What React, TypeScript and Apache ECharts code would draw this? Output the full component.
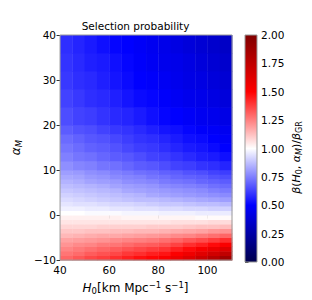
import React, { useEffect, useRef } from "react";
import * as echarts from "echarts";

// Column edges along H0 [km Mpc^-1 s^-1]
const H0_EDGES = [40, 45, 50, 55, 60, 65, 70, 75, 80, 85, 90, 95, 100, 105, 110];
// Row edges along alpha_M (bottom to top)
const ALPHA_EDGES = [
  -10, -9, -8, -7, -6, -5, -4, -3, -2, -1, 0, 1, 2, 3, 4, 5, 6, 7, 8, 9, 10,
  12, 14, 16, 18, 20, 24, 28, 32, 36, 40,
];
// beta(H0, alpha_M)/beta_GR, one row per alpha band (bottom to top), one value per H0 column
const ROW_M9_5 = [1.3, 1.33, 1.36, 1.38, 1.41, 1.44, 1.47, 1.49, 1.52, 1.57, 1.63, 1.7, 1.78, 1.87];
const ROW_M8_5 = [1.27, 1.29, 1.32, 1.34, 1.36, 1.39, 1.41, 1.44, 1.46, 1.51, 1.56, 1.62, 1.68, 1.75];
const ROW_M7_5 = [1.24, 1.26, 1.28, 1.3, 1.32, 1.34, 1.36, 1.38, 1.4, 1.44, 1.48, 1.53, 1.58, 1.63];
const ROW_M6_5 = [1.21, 1.23, 1.24, 1.26, 1.27, 1.29, 1.31, 1.32, 1.34, 1.37, 1.41, 1.44, 1.48, 1.52];
const ROW_M5_5 = [1.18, 1.19, 1.2, 1.21, 1.23, 1.24, 1.25, 1.26, 1.28, 1.3, 1.33, 1.35, 1.38, 1.41];
const ROW_M4_5 = [1.14, 1.15, 1.16, 1.17, 1.17, 1.18, 1.19, 1.2, 1.21, 1.23, 1.24, 1.26, 1.28, 1.3];
const ROW_M3_5 = [1.11, 1.11, 1.12, 1.12, 1.13, 1.13, 1.14, 1.14, 1.15, 1.16, 1.17, 1.18, 1.2, 1.21];
const ROW_M2_5 = [1.08, 1.08, 1.08, 1.09, 1.09, 1.09, 1.09, 1.1, 1.1, 1.1, 1.11, 1.12, 1.12, 1.13];
const ROW_M1_5 = [1.05, 1.05, 1.05, 1.05, 1.05, 1.05, 1.05, 1.05, 1.05, 1.06, 1.06, 1.06, 1.07, 1.07];
const ROW_M0_5 = [1.03, 1.03, 1.03, 1.03, 1.03, 1.02, 1.02, 1.02, 1.02, 1.02, 1.02, 1.01, 1.01, 1.01];
const ROW_P0_5 = [1.0, 1.0, 0.99, 0.99, 0.99, 0.98, 0.98, 0.98, 0.97, 0.97, 0.97, 0.96, 0.96, 0.96];
const ROW_P1_5 = [0.97, 0.97, 0.96, 0.96, 0.95, 0.95, 0.94, 0.94, 0.93, 0.93, 0.92, 0.92, 0.91, 0.91];
const ROW_P2_5 = [0.95, 0.94, 0.94, 0.93, 0.92, 0.92, 0.91, 0.9, 0.89, 0.89, 0.88, 0.87, 0.87, 0.86];
const ROW_P3_5 = [0.93, 0.92, 0.91, 0.9, 0.89, 0.88, 0.87, 0.87, 0.86, 0.85, 0.84, 0.83, 0.82, 0.81];
const ROW_P4_5 = [0.91, 0.9, 0.89, 0.88, 0.87, 0.86, 0.85, 0.83, 0.82, 0.81, 0.8, 0.79, 0.78, 0.77];
const ROW_P5_5 = [0.89, 0.88, 0.87, 0.86, 0.85, 0.83, 0.82, 0.81, 0.8, 0.79, 0.78, 0.77, 0.75, 0.74];
const ROW_P6_5 = [0.87, 0.86, 0.85, 0.84, 0.82, 0.81, 0.8, 0.79, 0.77, 0.76, 0.75, 0.74, 0.72, 0.71];
const ROW_P7_5 = [0.85, 0.84, 0.82, 0.81, 0.8, 0.78, 0.77, 0.76, 0.74, 0.73, 0.72, 0.7, 0.69, 0.68];
const ROW_P8_5 = [0.83, 0.82, 0.8, 0.79, 0.77, 0.76, 0.75, 0.73, 0.72, 0.7, 0.69, 0.68, 0.66, 0.65];
const ROW_P9_5 = [0.81, 0.8, 0.78, 0.77, 0.75, 0.74, 0.72, 0.71, 0.69, 0.68, 0.66, 0.65, 0.63, 0.62];
const ROW_P11 = [0.78, 0.76, 0.75, 0.73, 0.72, 0.7, 0.68, 0.67, 0.65, 0.63, 0.62, 0.6, 0.59, 0.57];
const ROW_P13 = [0.75, 0.73, 0.72, 0.7, 0.68, 0.67, 0.65, 0.63, 0.62, 0.6, 0.58, 0.56, 0.55, 0.53];
const ROW_P15 = [0.73, 0.71, 0.69, 0.68, 0.66, 0.64, 0.62, 0.61, 0.59, 0.57, 0.55, 0.54, 0.52, 0.5];
const ROW_P17 = [0.71, 0.69, 0.67, 0.66, 0.64, 0.62, 0.6, 0.59, 0.57, 0.55, 0.53, 0.52, 0.5, 0.48];
const ROW_P19 = [0.68, 0.66, 0.65, 0.63, 0.61, 0.6, 0.58, 0.56, 0.54, 0.53, 0.51, 0.49, 0.48, 0.46];
const ROW_P22 = [0.65, 0.63, 0.62, 0.6, 0.58, 0.57, 0.55, 0.53, 0.51, 0.5, 0.48, 0.46, 0.45, 0.43];
const ROW_P26 = [0.63, 0.61, 0.59, 0.58, 0.56, 0.54, 0.52, 0.51, 0.49, 0.47, 0.45, 0.44, 0.42, 0.4];
const ROW_P30 = [0.61, 0.59, 0.58, 0.56, 0.54, 0.52, 0.5, 0.49, 0.47, 0.45, 0.43, 0.42, 0.4, 0.38];
const ROW_P34 = [0.6, 0.58, 0.56, 0.55, 0.53, 0.51, 0.49, 0.47, 0.45, 0.44, 0.42, 0.4, 0.38, 0.36];
const ROW_P38 = [0.59, 0.57, 0.55, 0.53, 0.51, 0.5, 0.48, 0.46, 0.44, 0.42, 0.4, 0.38, 0.36, 0.34];
const RATIO_ROWS = [
  ROW_M9_5, ROW_M8_5, ROW_M7_5, ROW_M6_5, ROW_M5_5, ROW_M4_5, ROW_M3_5, ROW_M2_5, ROW_M1_5, ROW_M0_5,
  ROW_P0_5, ROW_P1_5, ROW_P2_5, ROW_P3_5, ROW_P4_5, ROW_P5_5, ROW_P6_5, ROW_P7_5, ROW_P8_5, ROW_P9_5,
  ROW_P11, ROW_P13, ROW_P15, ROW_P17, ROW_P19,
  ROW_P22, ROW_P26, ROW_P30, ROW_P34, ROW_P38,
];
const COLOR_RANGE = [0, 2];
const SEISMIC = ["#00004d", "#0000ff", "#ffffff", "#ff0000", "#800000"];

const FONT = "DejaVu Sans";

function mathRich(size: number, sub: number) {
  return {
    i: { fontFamily: FONT, fontSize: size, fontStyle: "italic", color: "#000", lineHeight: 16 },
    n: { fontFamily: FONT, fontSize: size, color: "#000", lineHeight: 16 },
    s: { fontFamily: FONT, fontSize: sub, color: "#000", lineHeight: 9, padding: [6, 0, 0, 0] },
    si: { fontFamily: FONT, fontSize: sub, fontStyle: "italic", color: "#000", lineHeight: 9, padding: [6, 0, 0, 0] },
    p: { fontFamily: FONT, fontSize: sub, color: "#000", lineHeight: 9, padding: [0, 0, 6, 0] },
  };
}

export default function App() {
  const ref = useRef<HTMLDivElement>(null);
  useEffect(() => {
    if (!ref.current) return;
    const chart = echarts.init(ref.current, undefined, { renderer: "svg" });
    const cells: number[][] = [];
    RATIO_ROWS.forEach((row, r) => {
      row.forEach((v, c) => {
        cells.push([H0_EDGES[c], H0_EDGES[c + 1], ALPHA_EDGES[r], ALPHA_EDGES[r + 1], v]);
      });
    });
    const rich = mathRich(12, 8.5);
    const richBar = mathRich(11, 8);
    const minus = (v: number) => (v < 0 ? "\u2212" + Math.abs(v) : String(v));
    chart.setOption({
      animation: false,
      title: {
        text: "Selection probability",
        left: 135.5,
        textAlign: "center",
        top: 20,
        padding: 0,
        textStyle: { fontFamily: FONT, fontSize: 10.5, fontWeight: "normal", color: "#000" },
      },
      grid: [
        { left: 39, top: 35, width: 193, height: 227, show: true, borderColor: "#999", borderWidth: 1, z: 5, backgroundColor: "transparent" },
        { left: 245, top: 35, width: 12, height: 227, show: true, borderColor: "#999", borderWidth: 1, z: 5, backgroundColor: "transparent" },
      ],
      xAxis: [
        {
          type: "value",
          gridIndex: 0,
          min: 40,
          max: 110,
          interval: 20,
          axisLine: { show: false },
          axisTick: { show: true, length: 3.5, lineStyle: { color: "#333" } },
          splitLine: { show: false },
          axisLabel: { margin: 4, fontSize: 10.5, color: "#000", fontFamily: FONT, showMaxLabel: false },
          name: "{i|H}{s|0}{n|[km Mpc}{p|\u22121}{n| s}{p|\u22121}{n|]}",
          nameLocation: "middle",
          nameGap: 17,
          nameTextStyle: { rich, padding: [0, 21, 0, 0] },
        },
        { type: "value", gridIndex: 1, min: 0, max: 1, show: false },
      ],
      yAxis: [
        {
          type: "value",
          gridIndex: 0,
          min: -10,
          max: 40,
          interval: 10,
          axisLine: { show: false },
          axisTick: { show: true, length: 3.5, lineStyle: { color: "#333" } },
          splitLine: { show: false },
          axisLabel: { margin: 4, fontSize: 10.5, color: "#000", fontFamily: FONT, formatter: minus },
          name: "{i|\u03b1}{si|M}",
          nameLocation: "middle",
          nameRotate: 90,
          nameGap: 29,
          nameTextStyle: { rich },
        },
        {
          type: "value",
          gridIndex: 1,
          position: "right",
          min: COLOR_RANGE[0],
          max: COLOR_RANGE[1],
          interval: 0.25,
          axisLine: { show: false },
          axisTick: { show: true, length: 3.5, lineStyle: { color: "#333" } },
          splitLine: { show: false },
          axisLabel: { margin: 4, fontSize: 10.5, color: "#000", fontFamily: FONT, formatter: (v: number) => v.toFixed(2) },
          name: "{i|\u03b2}{n|(}{i|H}{s|0}{n|, }{i|\u03b1}{si|M}{n|)/}{i|\u03b2}{s|GR}",
          nameLocation: "middle",
          nameRotate: 90,
          nameGap: 31,
          nameTextStyle: { rich: richBar, padding: [0, 18, 0, 0] },
        },
      ],
      visualMap: {
        type: "continuous",
        show: false,
        min: COLOR_RANGE[0],
        max: COLOR_RANGE[1],
        dimension: 4,
        seriesIndex: 0,
        inRange: { color: SEISMIC },
      },
      series: [
        {
          type: "custom",
          xAxisIndex: 0,
          yAxisIndex: 0,
          encode: { x: [0, 1], y: [2, 3] },
          data: cells,
          renderItem: (params: any, api: any) => {
            const p0 = api.coord([api.value(0), api.value(3)]);
            const p1 = api.coord([api.value(1), api.value(2)]);
            return {
              type: "rect",
              shape: { x: p0[0], y: p0[1], width: p1[0] - p0[0] + 0.4, height: p1[1] - p0[1] + 0.4 },
              style: { fill: api.visual("color") },
            };
          },
        },
        {
          type: "custom",
          xAxisIndex: 1,
          yAxisIndex: 1,
          data: [[0, COLOR_RANGE[0], 1, COLOR_RANGE[1]]],
          encode: { x: [0, 2], y: [1, 3] },
          renderItem: (params: any, api: any) => {
            const top = api.coord([api.value(0), api.value(3)]);
            const bot = api.coord([api.value(2), api.value(1)]);
            return {
              type: "rect",
              shape: { x: top[0], y: top[1], width: bot[0] - top[0], height: bot[1] - top[1] },
              style: {
                fill: new echarts.graphic.LinearGradient(
                  0, 1, 0, 0,
                  SEISMIC.map((c, i) => ({ offset: i / (SEISMIC.length - 1), color: c }))
                ),
              },
            };
          },
        },
      ],
    });
    return () => chart.dispose();
  }, []);
  return <div ref={ref} style={{ position: "absolute", left: 0, top: 0, width: 312, height: 300 }} />;
}
